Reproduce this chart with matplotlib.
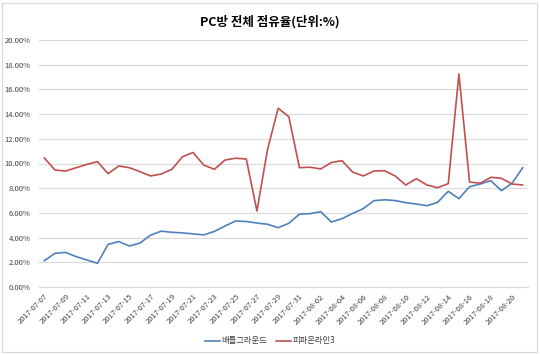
import matplotlib
matplotlib.use("Agg")
import matplotlib.pyplot as plt
import matplotlib.patches as mpatches
import matplotlib.ticker as mticker
import pandas as pd

plt.rcParams['font.family'] = ['Noto Sans CJK KR', 'DejaVu Sans']

dates = pd.date_range("2017-07-07", "2017-08-21", freq="D").strftime("%Y-%m-%d").tolist()

battlegrounds = [2.13, 2.73, 2.80, 2.46, 2.19, 1.92, 3.45, 3.68, 3.32, 3.56,
                 4.20, 4.52, 4.43, 4.38, 4.30, 4.22, 4.50, 4.94, 5.35, 5.30,
                 5.18, 5.08, 4.80, 5.16, 5.90, 5.94, 6.10, 5.26, 5.53, 5.96,
                 6.34, 6.99, 7.06, 7.00, 6.83, 6.72, 6.58, 6.86, 7.75, 7.15,
                 8.12, 8.34, 8.61, 7.80, 8.40, 9.66]
fifa3 = [10.45, 9.47, 9.39, 9.66, 9.93, 10.15, 9.18, 9.80, 9.66, 9.34,
         8.99, 9.15, 9.53, 10.55, 10.89, 9.87, 9.53, 10.28, 10.43, 10.36,
         6.15, 11.15, 14.47, 13.79, 9.66, 9.70, 9.56, 10.08, 10.23, 9.31,
         8.99, 9.39, 9.42, 8.99, 8.26, 8.77, 8.26, 8.04, 8.37, 17.25,
         8.50, 8.40, 8.88, 8.80, 8.34, 8.26]
series_names = ["배틀그라운드", "피파온라인3"]
title = "PC방 전체 점유율(단위:%)"

W, H = 540, 354
fig = plt.figure(figsize=(W / 100, H / 100), dpi=100)
fig.patches.append(mpatches.Rectangle((2 / W, 2 / H), 1 - 5 / W, 1 - 5 / H,
                                      transform=fig.transFigure, fill=False,
                                      edgecolor="#d9d9d9", linewidth=0.8))

ax = fig.add_axes([39 / W, 1 - 287 / H, (528 - 39) / W, (287 - 40) / H])
x = list(range(len(dates)))
ax.plot(x, battlegrounds, color="#4F81BD", linewidth=1.2, label=series_names[0])
ax.plot(x, fifa3, color="#C0504D", linewidth=1.2, label=series_names[1])

ax.set_xlim(-0.5, len(dates) - 0.5)
ax.set_ylim(0, 20)
ax.yaxis.set_major_locator(mticker.MultipleLocator(2))
ax.yaxis.set_major_formatter(mticker.FuncFormatter(lambda v, p: f"{v:.2f}%"))
ax.grid(axis="y", color="#d9d9d9", linewidth=0.8)
ax.set_axisbelow(True)
for s in ["top", "right", "left"]:
    ax.spines[s].set_visible(False)
ax.spines["bottom"].set_color("#d9d9d9")
ax.spines["bottom"].set_linewidth(0.8)

ax.set_xticks(x[::2])
ax.set_xticklabels(dates[::2], rotation=45, ha="right", rotation_mode="anchor",
                   fontsize=5.5, color="#404040")
ax.tick_params(axis="x", length=0, pad=4)
ax.tick_params(axis="y", length=0, labelsize=5.5, labelcolor="#404040", pad=6)

fig.text(0.5, 1 - 22 / H, title, ha="center", va="center", fontsize=9,
         fontweight="bold", color="#000000")

fig.legend(loc="center", bbox_to_anchor=(0.5, 1 - 341 / H), ncol=2, frameon=False,
           fontsize=6, handlelength=1.8, columnspacing=1.1, handletextpad=0.15,
           labelcolor="#404040")

fig.savefig("out.png", dpi=100)
